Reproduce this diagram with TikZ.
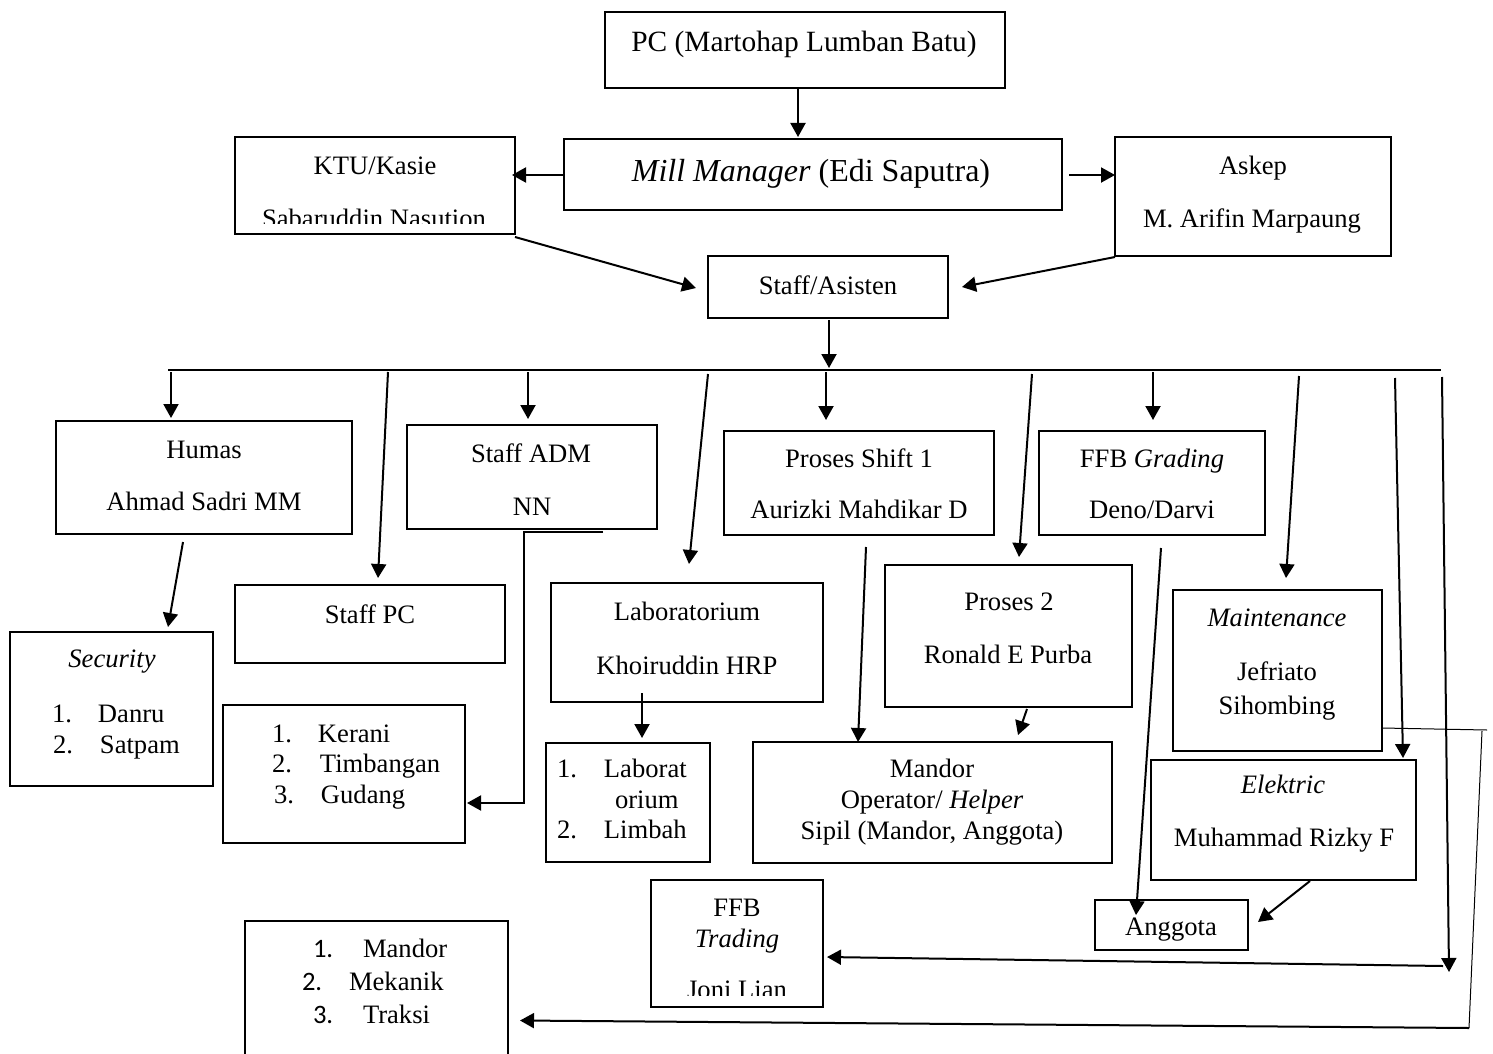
\documentclass[tikz,border=0pt]{standalone}
\usepackage{fontspec}
\setmainfont{Liberation Serif}
\newfontfamily\numfont{Carlito}
\usetikzlibrary{arrows.meta,calc}
\begin{document}
\begin{tikzpicture}[x=0.5pt,y=-0.5pt,
  box/.style={draw,line width=1.3pt,inner sep=0pt,outer sep=0pt,anchor=north west},
  txt/.style={anchor=base,inner sep=0pt,outer sep=0pt,font=\fontsize{13.3}{15.5}\selectfont},
  item/.style={txt,anchor=base west},
  arr/.style={line width=1pt,-{Triangle[length=7pt,width=7.5pt]}},
  thinline/.style={line width=0.5pt},
  branch/.style={line width=0.6pt}]
\useasboundingbox (0,0) rectangle (1493,1054);
\clip (0,0) rectangle (1493,1054);

% ---------- boxes ----------
\node[box,minimum width=200pt,minimum height=38pt]   (pc)      at (605,12)  {};
\node[box,minimum width=249pt,minimum height=35.5pt] (mm)      at (564,139) {};
\node[box,minimum width=140pt,minimum height=48.5pt] (ktu)     at (235,137) {};
\node[box,minimum width=138pt,minimum height=59.5pt] (askep)   at (1115,137) {};
\node[box,minimum width=120pt,minimum height=31pt]   (staff)   at (708,256) {};
\node[box,minimum width=148pt,minimum height=56.5pt] (humas)   at (56,421)  {};
\node[box,minimum width=101.5pt,minimum height=77pt] (security) at (10,632) {};
\node[box,minimum width=135pt,minimum height=39pt]   (staffpc) at (235,585) {};
\node[box,minimum width=125pt,minimum height=52pt]   (adm)     at (407,425) {};
\node[box,minimum width=121pt,minimum height=69pt]   (kerani)  at (223,705) {};
\node[box,minimum width=136pt,minimum height=59.5pt] (lab)     at (551,583) {};
\node[box,minimum width=82pt,minimum height=59.5pt]  (lablist) at (546,743) {};
\node[box,minimum width=135pt,minimum height=52pt]   (ps1)     at (724,431) {};
\node[box,minimum width=123.5pt,minimum height=71pt] (p2)      at (885,565) {};
\node[box,minimum width=113pt,minimum height=52pt]   (ffbg)    at (1039,431) {};
\node[box,minimum width=104.5pt,minimum height=80.5pt] (maint) at (1173,590) {};
\node[box,minimum width=132.5pt,minimum height=60pt] (elek)    at (1151,760) {};
\node[box,minimum width=179.5pt,minimum height=60.5pt] (mandor) at (753,742) {};
\node[box,minimum width=76.5pt,minimum height=25pt]  (anggota) at (1095,900) {};
\node[box,minimum width=86pt,minimum height=63.5pt]  (ffbt)    at (651,880) {};
\node[box,minimum width=131.5pt,minimum height=75pt] (blist)   at (245,921) {};

% ---------- texts ----------
\node[txt,font=\fontsize{14.7}{17}\selectfont] (tpc) at (804,52) {PC (Martohap Lumban Batu)};
\node[txt,font=\fontsize{16}{19}\selectfont] (tmm) at (811,181) {\textit{Mill Manager} (Edi Saputra)};
\node[txt] (tktu1) at (375,174) {KTU/Kasie};
\begin{scope}
  \clip (235,137) rectangle (515,223);
  \node[txt] (tktu2) at (374,227) {Sabaruddin Nasution};
\end{scope}
\node[txt] (task1) at (1253,174) {Askep};
\node[txt] (task2) at (1252,227) {M. Arifin Marpaung};
\node[txt] (tstaff) at (828,294) {Staff/Asisten};
\node[txt] (thum1) at (204,458) {Humas};
\node[txt] (thum2) at (204,510) {Ahmad Sadri MM};
\node[txt] (tsec1) at (112,667) {\textit{Security}};
\node[item] (tsec2) at (52,722) {\makebox[23pt][l]{1.}Danru};
\node[item] (tsec3) at (53,753) {\makebox[23.5pt][l]{2.}Satpam};
\node[txt] (tspc) at (370,623) {Staff PC};
\node[txt] (tadm1) at (531,462) {Staff ADM};
\node[txt] (tadm2) at (532,515) {NN};
\node[item] (tker1) at (272,742) {\makebox[23pt][l]{1.}Kerani};
\node[item] (tker2) at (272,772) {\makebox[24pt][l]{2.}Timbangan};
\node[item] (tker3) at (274,803) {\makebox[23.5pt][l]{3.}Gudang};
\node[txt] (tlab1) at (687,620) {Laboratorium};
\node[txt] (tlab2) at (687,674) {Khoiruddin HRP};
\node[item] (tll1) at (557,777) {\makebox[23.5pt][l]{1.}Laborat};
\node[item] (tll2) at (615,808) {orium};
\node[item] (tll3) at (557,838) {\makebox[23.5pt][l]{2.}Limbah};
\node[txt] (tps1a) at (859,467) {Proses Shift 1};
\node[txt] (tps1b) at (859,518) {Aurizki Mahdikar D};
\node[txt] (tp2a) at (1009,610) {Proses 2};
\node[txt] (tp2b) at (1008,663) {Ronald E Purba};
\node[txt] (tffbg1) at (1152,467) {FFB \textit{Grading}};
\node[txt] (tffbg2) at (1152,518) {Deno/Darvi};
\node[txt] (tmt1) at (1277,626) {\textit{Maintenance}};
\node[txt] (tmt2) at (1277,680) {Jefriato};
\node[txt] (tmt3) at (1277,714) {Sihombing};
\node[txt] (tel1) at (1283,793) {\textit{Elektric}};
\node[txt] (tel2) at (1284,846) {Muhammad Rizky F};
\node[txt] (tmd1) at (932,777) {Mandor};
\node[txt] (tmd2) at (932,808) {Operator/ \textit{Helper}};
\node[txt] (tmd3) at (932,839) {Sipil (Mandor, Anggota)};
\node[txt] (tang) at (1171,935) {Anggota};
\node[txt] (tft1) at (737,916) {FFB};
\node[txt] (tft2) at (737,947) {\textit{Trading}};
\begin{scope}
  \clip (651,880) rectangle (823,995);
  \node[txt] (tft3) at (737,998) {Joni Lian};
\end{scope}
\node[item] (tbl1) at (313,957) {\makebox[25pt][l]{\numfont 1.}Mandor};
\node[item] (tbl2) at (302,990) {\makebox[23.5pt][l]{\numfont 2.}Mekanik};
\node[item] (tbl3) at (313,1023) {\makebox[25pt][l]{\numfont 3.}Traksi};

% ---------- free-end coordinates ----------
\coordinate (brL) at (168,370);
\coordinate (brR) at (1441,370);
\coordinate (b1) at (171,372);
\coordinate (b2) at (388,372);
\coordinate (b3) at (528,372);
\coordinate (b4) at (708,374);
\coordinate (b5) at (826,372);
\coordinate (b6) at (1032,374);
\coordinate (b7) at (1153,372);
\coordinate (b8) at (1299,376);
\coordinate (b9) at (1395,378);
\coordinate (b10) at (1442,377);
\coordinate (c10) at (1449,972);
\coordinate (t1) at (1443,966);
\coordinate (m1) at (1487,730);
\coordinate (m2) at (1482,731);
\coordinate (m3) at (1469,1028);

% ---------- connectors ----------
\draw[arr] ($(pc.south)+(-7,1)$) -- ($(mm.north)+(-15,-2)$);
\draw[arr] ($(mm.west)+(0,0.5)$) -- ($(ktu.east)+(-3,-10.5)$);
\draw[arr] ($(mm.east)+(7,0.5)$) -- ($(askep.west)+(0,-21.5)$);
\draw[arr] ($(ktu.south east)+(0,3)$) -- ($(staff.west)+(-12,1)$);
\draw[arr] ($(askep.south west)+(0,1)$) -- ($(staff.east)+(14,0)$);
\draw[arr] ($(staff.south)+(1,2)$) -- ($(staff.south)+(1,50)$);
\draw[branch] (brL) -- (brR);

\draw[arr] (b1) -- ($(humas.north)+(-33,-3)$);
\draw[arr] (b2) -- ($(staffpc.north)+(8,-7)$);
\draw[arr] (b3) -- ($(adm.north)+(-4,-6)$);
\draw[arr] (b4) -- ($(lab.north)+(2,-19)$);
\draw[arr] (b5) -- ($(ps1.north)+(-33,-11)$);
\draw[arr] (b6) -- ($(p2.north)+(10.5,-8)$);
\draw[arr] (b7) -- ($(ffbg.north)+(1,-11)$);
\draw[arr] (b8) -- ($(maint.north)+(8.5,-12)$);
\draw[arr] (b9) -- ($(elek.north east)+(-13,-2)$);
\draw[arr] (b10) -- (c10);

\draw[arr] ($(humas.south)+(-21,8)$) -- ($(security.north)+(56.5,-5)$);
\draw[arr] ($(adm.south)+(71,3)$) -- ($(adm.south)+(-8,3)$) |- ($(kerani.east)+(2,29)$);
\draw[arr] ($(lab.south)+(-45,-9)$) -- ($(lablist.north)+(14,-5)$);
\draw[arr] ($(ps1.south)+(7,12)$) -- ($(mandor.north)+(-74.5,0)$);
\draw[arr] ($(p2.south)+(18.5,2)$) -- ($(mandor.north)+(85.5,-7)$);
\draw[arr] ($(ffbg.south)+(9,13)$) -- ($(anggota.north)+(-35.5,15)$);
\draw[arr] ($(elek.south)+(26.5,1)$) -- ($(anggota.east)+(10,-3)$);
\draw[arr] (t1) -- ($(ffbt.east)+(4,13.5)$);

\draw[thinline] ($(maint.east)+(0,57.5)$) -- (m1);
\draw[thinline] (m2) -- (m3);
\draw[arr] (m3) -- ($(blist.east)+(12,24.5)$);
\end{tikzpicture}
\end{document}
